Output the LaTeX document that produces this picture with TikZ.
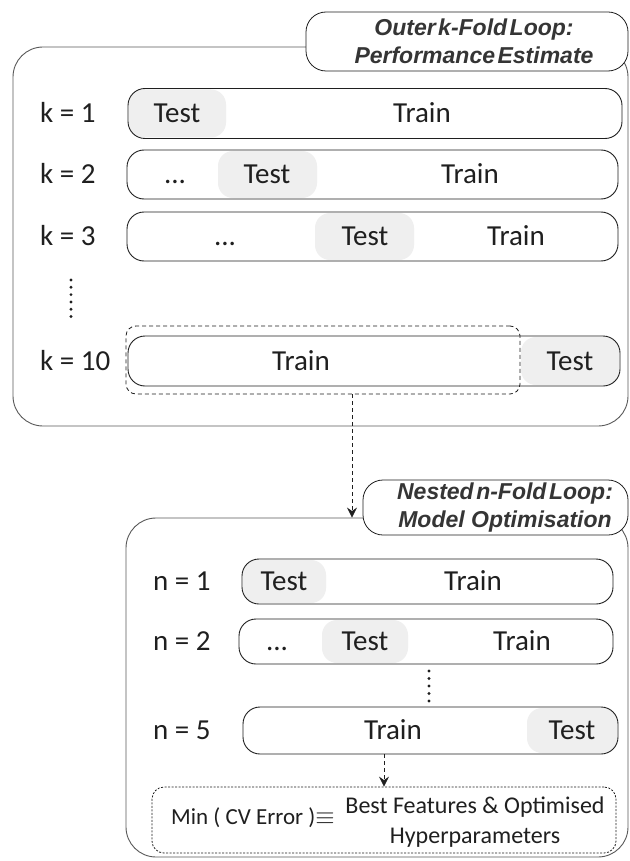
\documentclass[tikz,border=0pt]{standalone}
\usepackage{fontspec}
\setmainfont{Carlito}
\newfontfamily\titlefont{Liberation Sans}
\usetikzlibrary{arrows.meta}
\definecolor{frame}{HTML}{595959}
\definecolor{ink}{HTML}{1F1F1F}
\definecolor{shade}{HTML}{EFEFEF}
\newcommand\tsp{\hspace{2.5pt}}
\tikzset{
  sz/.style 2 args={minimum width=#1pt, minimum height=#2pt},
  loopbox/.style={draw=frame, line width=0.9pt, rounded corners=30pt, inner sep=0pt},
  titlebox/.style={draw=ink, line width=0.8pt, fill=white, rounded corners=20pt, inner sep=0pt},
  titletext/.style={font=\titlefont\bfseries\itshape\fontsize{23}{28}\selectfont, text=ink!90, align=center, inner sep=0pt},
  foldbar/.style={draw=ink, line width=0.9pt, rounded corners=17pt, inner sep=0pt},
  testfill/.style={fill=shade, rounded corners=15pt, inner sep=0pt},
  lbl/.style={font=\fontsize{29}{34}\selectfont, text=ink, inner sep=0pt, anchor=west, text height=18.7pt, text depth=0pt},
  word/.style={font=\fontsize{29}{34}\selectfont, text=ink, inner sep=0pt, text height=18.7pt, text depth=0pt},
  small/.style={font=\fontsize{24}{30}\selectfont, text=ink, inner sep=0pt},
  selbox/.style={draw=ink, line width=0.8pt, dash pattern=on 4pt off 3pt, rounded corners=10pt, inner sep=0pt},
  resbox/.style={draw=ink, line width=0.8pt, dash pattern=on 2pt off 1.5pt, rounded corners=12pt, inner sep=0pt},
  conn/.style={draw=ink, line width=0.8pt, dash pattern=on 4pt off 3pt, -{Stealth[length=10pt,width=10pt,inset=3.5pt]}},
}
\begin{document}
\begin{tikzpicture}[x=1pt,y=-1pt]
\useasboundingbox (0,0) rectangle (629,861);
\fill[white] (0,0) rectangle (629,861);

% ---------- outer loop ----------
\node[loopbox, sz={615}{379}] (outer) at (320.5,236.5) {};
\node[titlebox, sz={322}{59}] (outertitle) at (467,41.5) {};
\node[titletext] (outertext) at (474,41) {Outer\tsp k-Fold\tsp Loop:\\Performance\tsp Estimate};

% test fills
\node[testfill, sz={97}{48}] (k1t) at (177.5,113.5) {};
\node[testfill, sz={99}{47}] (k2t) at (267.5,174.5) {};
\node[testfill, sz={99}{47}] (k3t) at (364.5,236.5) {};
\node[testfill, sz={98}{48}] (k10t) at (570,361) {};

% bars
\node[foldbar, sz={494}{50}] (k1) at (375,113.5) {};
\node[foldbar, sz={491}{49}] (k2) at (372.5,174.5) {};
\node[foldbar, sz={491}{49}] (k3) at (372.5,236.5) {};
\node[foldbar, sz={492}{50}] (k10) at (374,361) {};

% labels
\node[lbl] (k1l) at (40,113.5) {k = 1};
\node[lbl] (k2l) at (40,174.5) {k = 2};
\node[lbl] (k3l) at (40,236.5) {k = 3};
\node[lbl] (k10l) at (40,361) {k = 10};

\node[word] (k1a) at (177,113.5) {Test};
\node[word] (k1b) at (422,113.5) {Train};
\node[word] (k2a) at (175,174.5) {...};
\node[word] (k2b) at (267,174.5) {Test};
\node[word] (k2c) at (470,174.5) {Train};
\node[word] (k3a) at (225,236.5) {...};
\node[word] (k3b) at (365,236.5) {Test};
\node[word] (k3c) at (516,236.5) {Train};
\node[word] (k10a) at (301,361) {Train};
\node[word] (k10b) at (570,361) {Test};

\foreach \yy in {280,287.3,294.6,301.9,309.2,316.5} \fill[ink] (71,\yy) circle (1.6);

\node[selbox, sz={394}{68}] (kdash) at (323,360) {};

% ---------- inner loop ----------
\node[loopbox, sz={502}{339}] (inner) at (377,687.5) {};
\node[titlebox, sz={265}{55}] (innertitle) at (495.5,507.5) {};
\node[titletext] (innertext) at (505,507.5) {Nested\tsp n-Fold\tsp Loop:\\Model Optimisation};

\coordinate (ax) at (352,0);
\draw[conn] (kdash.south -| ax) -- (inner.north -| ax);

\node[testfill, sz={83}{43}] (n1t) at (284.5,581.5) {};
\node[testfill, sz={86}{43}] (n2t) at (365,641.5) {};
\node[testfill, sz={90}{45}] (n5t) at (572,730.5) {};

\node[foldbar, sz={371}{45}] (n1) at (427.5,581.5) {};
\node[foldbar, sz={374}{45}] (n2) at (426,641.5) {};
\node[foldbar, sz={375}{47}] (n5) at (430.5,730.5) {};

\node[lbl] (n1l) at (153,581.5) {n = 1};
\node[lbl] (n2l) at (153,641.5) {n = 2};
\node[lbl] (n5l) at (153,730.5) {n = 5};

\node[word] (n1a) at (284,581.5) {Test};
\node[word] (n1b) at (473,581.5) {Train};
\node[word] (n2a) at (277,641.5) {...};
\node[word] (n2b) at (365,641.5) {Test};
\node[word] (n2c) at (522,641.5) {Train};
\node[word] (n5a) at (393,730.5) {Train};
\node[word] (n5b) at (572,730.5) {Test};

\foreach \yy in {671,678.5,686,693.5,701} \fill[ink] (429,\yy) circle (1.6);

\node[resbox, sz={464}{66}] (minbox) at (384,820) {};
\draw[conn] (n5.south -| minbox.north) -- (minbox.north);

\node[small, anchor=west, font=\fontsize{23}{28}\selectfont] (mintext) at (171,818) {Min ( CV Error )$\equiv$};
\node[small, align=center] (besttext) at (475,822) {Best Features \& Optimised\\Hyperparameters};
\end{tikzpicture}
\end{document}
